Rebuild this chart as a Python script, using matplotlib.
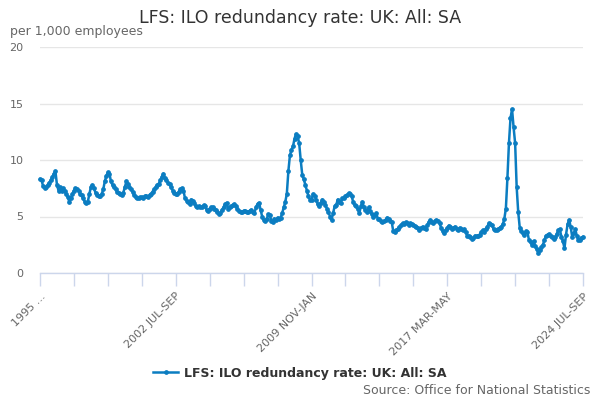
"""LFS ILO redundancy rate, UK, all, seasonally adjusted (rolling 3-month periods)."""

import matplotlib

matplotlib.use("Agg")
import matplotlib.pyplot as plt

# rolling quarters from 1995 MAR-MAY to 2024 JUL-SEP, per 1,000 employees
rate = [
    # 1995
    8.3, 8.2, 7.7, 7.5, 7.6, 7.8, 8.0, 8.2, 8.5, 8.8, 9.0, 7.8,
    7.3, 7.6, 7.3, 7.5, 7.3, 7.0, 6.75, 6.3, 6.6, 7.0, 7.3, 7.5,
    7.4, 7.3, 7.0, 6.9, 6.6, 6.3, 6.2, 6.3, 7.0, 7.6, 7.8, 7.5,
    7.1, 6.9, 6.8, 6.8, 7.0, 7.4, 8.1, 8.6, 8.9, 8.8, 8.1, 7.8,
    7.6, 7.4, 7.2, 7.1, 7.0, 6.9, 7.1, 7.6, 8.1, 7.9, 7.6, 7.4,
    # 2000
    7.2, 6.9, 6.7, 6.6, 6.6, 6.7, 6.7, 6.6, 6.8, 6.8, 6.7, 6.9,
    7.0, 7.2, 7.4, 7.6, 7.8, 7.9, 8.2, 8.5, 8.8, 8.4, 8.2, 8.0,
    7.9, 7.6, 7.3, 7.1, 7.0, 7.0, 7.2, 7.4, 7.5, 7.3, 6.6, 6.4,
    6.3, 6.1, 6.5, 6.4, 6.2, 5.9, 5.8, 5.9, 5.8, 5.8, 6.0, 5.9,
    5.6, 5.5, 5.7, 5.8, 5.8, 5.7, 5.6, 5.4, 5.2, 5.3, 5.6, 5.8,
    # 2005
    6.1, 6.2, 5.7, 5.8, 5.9, 6.0, 6.1, 5.9, 5.7, 5.5, 5.4, 5.4,
    5.5, 5.5, 5.4, 5.4, 5.5, 5.6, 5.4, 5.3, 5.8, 6.1, 6.2, 5.6,
    5.0, 4.7, 4.6, 4.8, 5.2, 5.1, 4.6, 4.5, 4.8, 4.7, 4.9, 4.8,
    4.9, 5.3, 5.8, 6.3, 7.0, 9.0, 10.4, 10.9, 11.2, 11.9, 12.3, 12.1,
    11.5, 10.0, 8.7, 8.3, 7.8, 7.3, 6.8, 6.5, 6.5, 7.0, 6.8, 6.5,
    # 2010
    6.1, 5.9, 6.2, 6.5, 6.3, 6.0, 5.7, 5.4, 5.0, 4.7, 5.3, 5.9,
    6.0, 6.5, 6.3, 6.2, 6.6, 6.6, 6.8, 6.9, 7.05, 7.0, 6.8, 6.3,
    6.0, 5.9, 5.7, 5.3, 5.9, 6.3, 5.8, 5.6, 5.4, 5.8, 5.5, 5.2,
    5.0, 5.1, 5.3, 4.8, 4.8, 4.6, 4.5, 4.6, 4.7, 4.9, 4.8, 4.6,
    4.5, 3.7, 3.65, 3.8, 3.9, 4.1, 4.25, 4.4, 4.3, 4.5, 4.4, 4.25,
    # 2015
    4.4, 4.3, 4.25, 4.2, 4.1, 4.0, 3.8, 4.0, 4.1, 4.0, 3.9, 4.25,
    4.5, 4.7, 4.5, 4.4, 4.6, 4.7, 4.6, 4.4, 4.0, 3.7, 3.5, 3.8,
    4.0, 4.2, 4.1, 3.9, 4.0, 4.1, 3.9, 3.8, 4.0, 3.9, 3.8, 3.9,
    3.6, 3.3, 3.3, 3.2, 3.0, 3.1, 3.3, 3.25, 3.3, 3.4, 3.6, 3.8,
    3.65, 3.9, 4.1, 4.4, 4.3, 4.25, 3.9, 3.8, 3.8, 3.9, 4.0, 4.1,
    # 2020
    4.3, 4.8, 5.7, 8.4, 11.5, 13.7, 14.5, 12.9, 11.5, 7.6, 5.4, 4.0,
    3.7, 3.5, 3.4, 3.7, 3.6, 2.9, 2.7, 2.5, 2.8, 2.4, 2.1, 1.8,
    2.0, 2.3, 2.5, 2.9, 3.3, 3.4, 3.45, 3.3, 3.2, 3.0, 3.2, 3.45,
    3.8, 3.85, 3.2, 2.8, 2.2, 3.4, 4.3, 4.7, 4.1, 3.2, 3.5, 3.85,
    3.3, 2.9, 2.9, 3.1, 3.2,
]

tick_labels = ["1995 ...", "2002 JUL-SEP", "2009 NOV-JAN", "2017 MAR-MAY", "2024 JUL-SEP"]
y_ticks = [0, 5, 10, 15, 20]

SERIES_NAME = "LFS: ILO redundancy rate: UK: All: SA"
LINE_COLOR = "#0b7dc1"
GREY = "#666666"


def main() -> None:
    plt.rcParams["font.family"] = ["DejaVu Sans"]

    fig = plt.figure(figsize=(6, 4), dpi=100)
    ax = fig.add_axes([40 / 600, 127 / 400, 543 / 600, 226 / 400])

    x = list(range(len(rate)))
    ax.plot(
        x, rate, color=LINE_COLOR, linewidth=1.8, marker="o", markersize=2.4,
        clip_on=False, label=SERIES_NAME, zorder=3,
    )

    ax.set_xlim(0, len(rate) - 1)
    ax.set_ylim(0, 20)

    # tick every 22 periods, labels every 88
    step = 22
    ax.set_xticks(range(0, len(rate), step))
    labels = []
    for i in range(0, len(rate), step):
        labels.append(tick_labels[i // (step * 4)] if i % (step * 4) == 0 else "")
    ax.set_xticklabels(labels, rotation=45, ha="right", rotation_mode="anchor",
                       fontsize=8, color=GREY)
    ax.tick_params(axis="x", length=9, width=1, color="#ccd6eb", pad=4)

    ax.set_yticks(y_ticks)
    ax.set_yticklabels([str(v) for v in y_ticks], fontsize=8, color=GREY)
    ax.tick_params(axis="y", length=0, pad=12)
    ax.yaxis.grid(True, color="#e6e6e6", linewidth=1)
    ax.set_axisbelow(True)

    for side in ("top", "right", "left"):
        ax.spines[side].set_visible(False)
    ax.spines["bottom"].set_color("#ccd6eb")
    ax.spines["bottom"].set_linewidth(1)
    ax.spines["bottom"].set_zorder(1)

    fig.text(0.5, 1 - 18 / 400, SERIES_NAME, ha="center", va="center",
             fontsize=12.5, color="#333333")
    fig.text(10 / 600, 1 - 31 / 400, "per 1,000 employees", ha="left", va="center",
             fontsize=9, color=GREY)

    leg = fig.legend(loc="center", bbox_to_anchor=(0.5, 1 - 373 / 400), frameon=False,
                     prop={"size": 9, "weight": "bold"}, handlelength=2.0,
                     handletextpad=0.5)
    for text in leg.get_texts():
        text.set_color("#333333")

    fig.text(590 / 600, 1 - 390 / 400, "Source: Office for National Statistics",
             ha="right", va="center", fontsize=9, color=GREY)

    fig.savefig("out.png", dpi=100)
    plt.close(fig)


if __name__ == "__main__":
    main()
